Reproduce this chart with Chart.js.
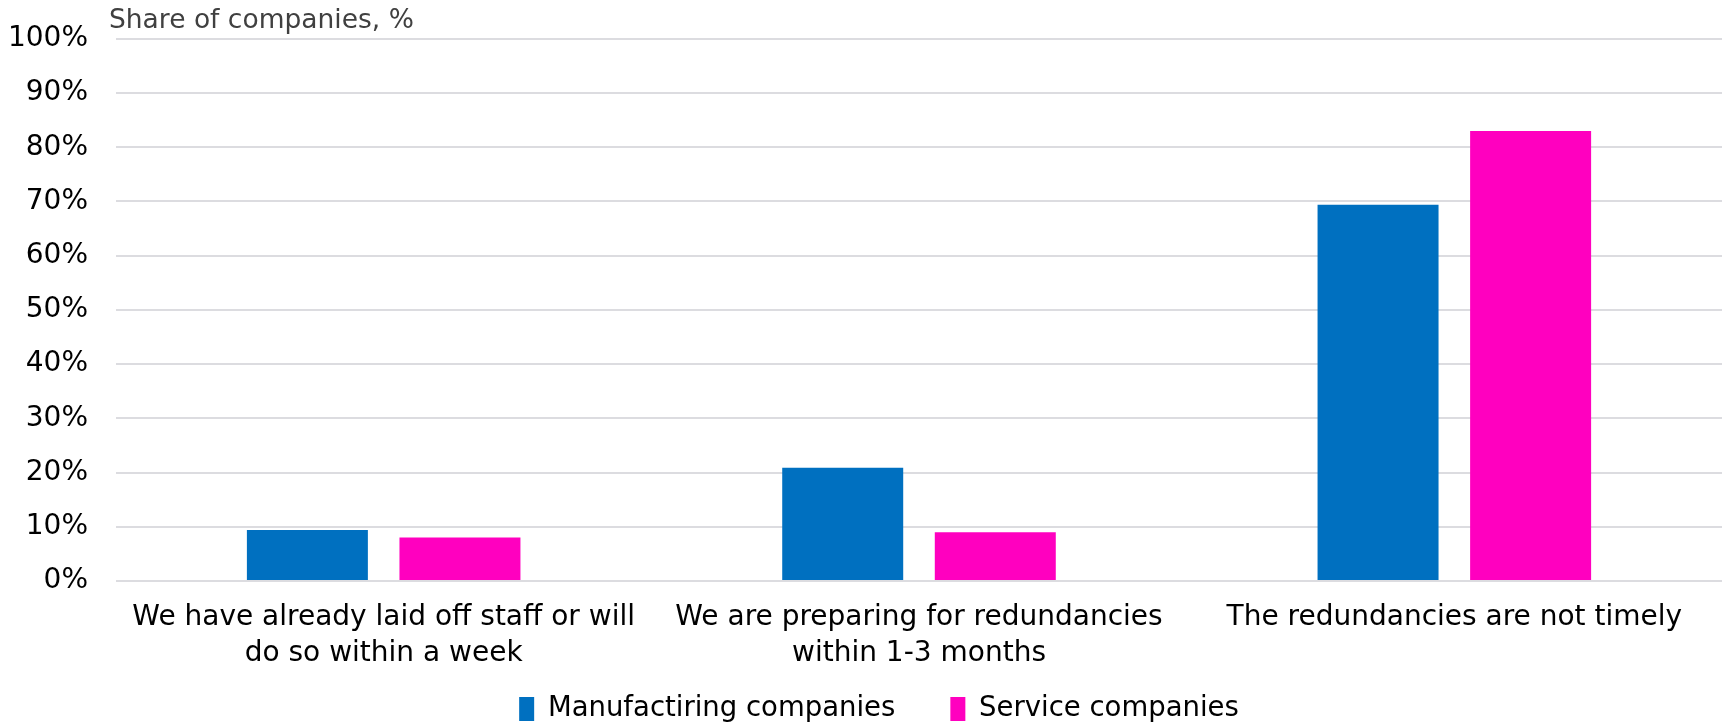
<!DOCTYPE html>
<html>
<head>
<meta charset="utf-8">
<script src="https://cdn.jsdelivr.net/npm/chart.js@4.4.0/dist/chart.umd.min.js"></script>
<style>
  html, body { margin: 0; padding: 0; background: #ffffff; }
  #wrap { width: 1723px; height: 726px; position: relative; }
</style>
</head>
<body>
<div id="wrap"><canvas id="c" width="1723" height="726"></canvas></div>
<script>
const categories = [
  ["We have already laid off staff or will", "do so within a week"],
  ["We are preparing for redundancies", "within 1-3 months"],
  "The redundancies are not timely"
];
const seriesNames = ["Manufactiring companies", "Service companies"];
const manufacturing = [9.4, 20.9, 69.4];
const service = [8.0, 9.0, 83.0];
const yTicks = [0, 10, 20, 30, 40, 50, 60, 70, 80, 90, 100];
const axisTitle = "Share of companies, %";

const FONT = "'DejaVu Sans', Verdana, sans-serif";
const LEGEND_PAD = 55;
const LEGEND_FONT = 27.5;

// Places the title over the plot's left edge and the legend row near the bottom edge
const blockPlacer = {
  id: 'blockPlacer',
  afterLayout(chart) {
    const lg = chart.legend;
    if (lg) {
      const centerY = chart.height - 17;
      lg.top = centerY - LEGEND_FONT / 2 - LEGEND_PAD;
      lg.bottom = chart.height;
      lg.height = lg.bottom - lg.top;
      lg.left += 14;
      lg.right += 14;
    }
    const tb = chart.titleBlock;
    if (tb) {
      tb.left = chart.chartArea.left - 7;
    }
  }
};

new Chart(document.getElementById('c'), {
  type: 'bar',
  data: {
    labels: categories,
    datasets: [
      { label: seriesNames[0], data: manufacturing, backgroundColor: '#0070C0', borderWidth: 0,
        categoryPercentage: 0.57, barPercentage: 0.793 },
      { label: seriesNames[1], data: service, backgroundColor: '#FF00BF', borderWidth: 0,
        categoryPercentage: 0.57, barPercentage: 0.793 }
    ]
  },
  plugins: [blockPlacer],
  options: {
    responsive: false,
    animation: false,
    devicePixelRatio: 1,
    layout: { padding: { left: 8, right: 1, top: 0, bottom: 0 } },
    plugins: {
      title: {
        display: true,
        text: axisTitle,
        align: 'start',
        fullSize: true,
        color: '#404040',
        font: { family: FONT, size: 26.5, weight: 'normal', lineHeight: 1.2 },
        padding: { top: 5, bottom: 2 }
      },
      legend: {
        position: 'bottom',
        fullSize: true,
        maxHeight: 55,
        labels: {
          color: '#000000',
          font: { family: FONT, size: LEGEND_FONT },
          boxWidth: 15,
          boxHeight: 24,
          padding: LEGEND_PAD
        }
      },
      tooltip: { enabled: false }
    },
    scales: {
      x: {
        afterFit: (axis) => { axis.height = 90; },
        grid: { display: false, drawTicks: false },
        border: { display: false },
        ticks: {
          color: '#000000',
          font: { family: FONT, size: 28, lineHeight: 1.27 },
          padding: 19,
          maxRotation: 0,
          autoSkip: false
        }
      },
      y: {
        min: 0,
        max: 100,
        afterBuildTicks: (axis) => { axis.ticks = yTicks.map(v => ({ value: v })); },
        afterFit: (axis) => {
          axis.width = 108;
          axis.paddingTop = 17;
          axis.paddingBottom = 17;
        },
        grid: { color: '#DCDCE0', lineWidth: 2, drawTicks: false },
        border: { display: false },
        ticks: {
          color: '#000000',
          font: { family: FONT, size: 28 },
          padding: 28,
          callback: (v) => v + '%'
        }
      }
    }
  }
});
</script>
</body>
</html>
